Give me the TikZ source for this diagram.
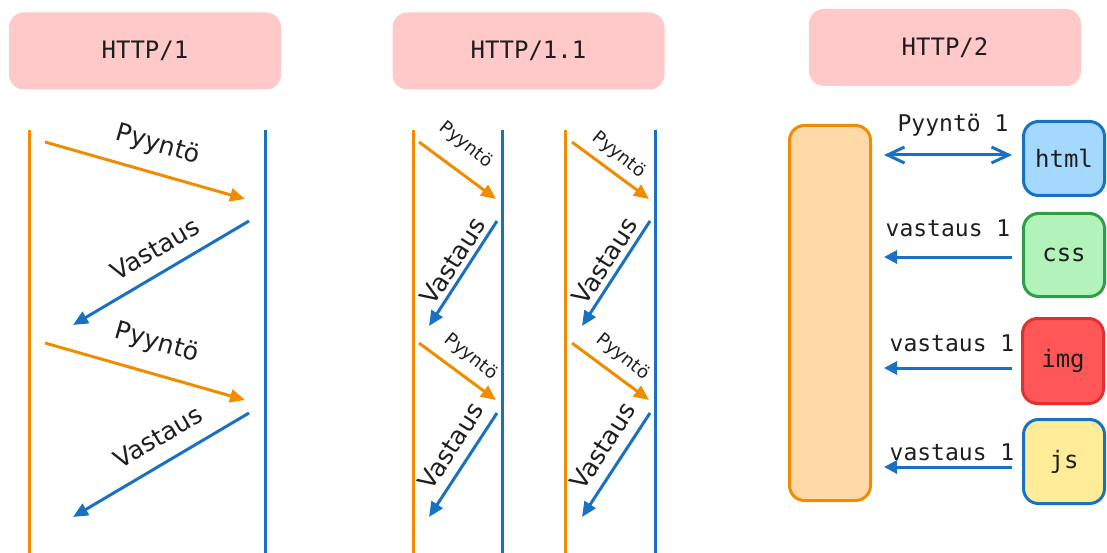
\documentclass[tikz,border=0pt]{standalone}
\usepackage{fontspec}
\setmainfont{DejaVu Sans}
\newfontfamily\monofont{DejaVu Sans Mono}
\usetikzlibrary{arrows.meta}

\definecolor{clientorange}{HTML}{F08C00}
\definecolor{serverblue}{HTML}{1971C2}
\definecolor{titlepink}{HTML}{FFC9C9}
\definecolor{clientfill}{HTML}{FFD8A8}
\definecolor{htmlfill}{HTML}{A5D8FF}
\definecolor{cssfill}{HTML}{B2F2BB}
\definecolor{cssline}{HTML}{2F9E44}
\definecolor{imgfill}{HTML}{FF5757}
\definecolor{imgline}{HTML}{E03131}
\definecolor{jsfill}{HTML}{FFEC99}
\definecolor{ink}{HTML}{1E1E1E}

\begin{document}
\begin{tikzpicture}[x=1pt,y=-1pt,
  titlebox/.style={fill=titlepink, rounded corners=15pt, minimum width=272pt,
    minimum height=77pt, text=ink, inner sep=0pt,
    font=\monofont\fontsize{24}{28}\selectfont},
  clientline/.style={clientorange, line width=3pt},
  serverline/.style={serverblue, line width=3pt},
  reqarrow/.style={clientorange, line width=3pt,
    -{Triangle[length=15pt,width=13pt]}},
  resparrow/.style={serverblue, line width=3pt,
    -{Triangle[length=15pt,width=13pt]}},
  biglabel/.style={text=ink, inner sep=0pt, font=\fontsize{25}{29}\selectfont},
  smalllabel/.style={text=ink, inner sep=0pt, font=\fontsize{18}{21}\selectfont},
  monolabel/.style={text=ink, inner sep=0pt, font=\monofont\fontsize{23}{27}\selectfont},
  filebox/.style={rounded corners=15pt, line width=3pt, minimum width=81pt,
    text=ink, inner sep=0pt, font=\monofont\fontsize{24}{28}\selectfont},
  h2arrow/.style={serverblue, line width=3pt,
    -{Triangle[length=13pt,width=13pt]}},
]
\useasboundingbox (0,0) rectangle (1107,553);

% ---------- titles ----------
\node[titlebox] (t1)  at (145,51)   {HTTP/1};
\node[titlebox] (t11) at (528.5,51) {HTTP/1.1};
\node[titlebox] (t2)  at (945,47.5) {HTTP/2};

% ---------- HTTP/1 ----------
\coordinate (c1top) at (29,130);  \coordinate (c1bot) at (29,553);
\coordinate (s1top) at (265,130); \coordinate (s1bot) at (265,553);
\draw[clientline] (c1top) -- (c1bot);
\draw[serverline] (s1top) -- (s1bot);

\coordinate (r1a) at (45,142);  \coordinate (r1b) at (245,199);
\coordinate (v1a) at (249,221); \coordinate (v1b) at (73,325);
\coordinate (r2a) at (45,343);  \coordinate (r2b) at (245,400);
\coordinate (v2a) at (249,413); \coordinate (v2b) at (73,517);
\draw[reqarrow]  (r1a) -- (r1b);
\draw[resparrow] (v1a) -- (v1b);
\draw[reqarrow]  (r2a) -- (r2b);
\draw[resparrow] (v2a) -- (v2b);
\node[biglabel, rotate=-16]   (lr1) at (158,145) {Pyyntö};
\node[biglabel, rotate=30.6]  (lv1) at (155,249) {Vastaus};
\node[biglabel, rotate=-16]   (lr2) at (157,343) {Pyyntö};
\node[biglabel, rotate=30.6]  (lv2) at (158,437) {Vastaus};

% ---------- HTTP/1.1, first connection ----------
\coordinate (c2top) at (413,130); \coordinate (c2bot) at (413,553);
\coordinate (s2top) at (502,130); \coordinate (s2bot) at (502,553);
\draw[clientline] (c2top) -- (c2bot);
\draw[serverline] (s2top) -- (s2bot);
\coordinate (ar1a) at (419,142); \coordinate (ar1b) at (496,199);
\coordinate (av1a) at (497,221); \coordinate (av1b) at (429,326);
\coordinate (ar2a) at (419,343); \coordinate (ar2b) at (496,400);
\coordinate (av2a) at (497,413); \coordinate (av2b) at (429,517);
\draw[reqarrow]  (ar1a) -- (ar1b);
\draw[resparrow] (av1a) -- (av1b);
\draw[reqarrow]  (ar2a) -- (ar2b);
\draw[resparrow] (av2a) -- (av2b);
\node[smalllabel, rotate=-39] (alr1) at (466,145) {Pyyntö};
\node[biglabel, rotate=57]    (alv1) at (453,261) {Vastaus};
\node[smalllabel, rotate=-39] (alr2) at (471,357) {Pyyntö};
\node[biglabel, rotate=57]    (alv2) at (451,446) {Vastaus};

% ---------- HTTP/1.1, second connection ----------
\coordinate (c3top) at (565,130); \coordinate (c3bot) at (565,553);
\coordinate (s3top) at (655,130); \coordinate (s3bot) at (655,553);
\draw[clientline] (c3top) -- (c3bot);
\draw[serverline] (s3top) -- (s3bot);
\coordinate (br1a) at (572,142); \coordinate (br1b) at (649,199);
\coordinate (bv1a) at (650,221); \coordinate (bv1b) at (582,326);
\coordinate (br2a) at (572,343); \coordinate (br2b) at (649,400);
\coordinate (bv2a) at (650,413); \coordinate (bv2b) at (582,517);
\draw[reqarrow]  (br1a) -- (br1b);
\draw[resparrow] (bv1a) -- (bv1b);
\draw[reqarrow]  (br2a) -- (br2b);
\draw[resparrow] (bv2a) -- (bv2b);
\node[smalllabel, rotate=-39] (blr1) at (619,155) {Pyyntö};
\node[biglabel, rotate=57]    (blv1) at (605,261) {Vastaus};
\node[smalllabel, rotate=-39] (blr2) at (623,357) {Pyyntö};
\node[biglabel, rotate=57]    (blv2) at (603,446) {Vastaus};

% ---------- HTTP/2 ----------
\node[rounded corners=15pt, line width=3pt, draw=clientorange, fill=clientfill,
  minimum width=81pt, minimum height=375pt] (client) at (830,313) {};

\node[filebox, draw=serverblue, fill=htmlfill, minimum height=74pt] (html) at (1064,158.5) {html};
\node[filebox, draw=cssline,    fill=cssfill,  minimum height=83pt] (css)  at (1064,255)   {css};
\node[filebox, draw=imgline,    fill=imgfill,  minimum height=85pt] (img)  at (1063,361)   {img};
\node[filebox, draw=serverblue, fill=jsfill,   minimum height=84pt] (js)   at (1064,461.5) {js};

\coordinate (hh1) at (1012,155); \coordinate (hh2) at (884,155);
\coordinate (hc1) at (1012,257); \coordinate (hc2) at (884,257);
\coordinate (hi1) at (1012,368); \coordinate (hi2) at (884,368);
\coordinate (hj1) at (1012,467); \coordinate (hj2) at (884,467);
\draw[serverblue, line width=3pt,
  {Straight Barb[length=17pt,width=16pt]}-{Straight Barb[length=17pt,width=16pt]}]
  (hh2) -- (hh1);
\draw[h2arrow] (hc1) -- (hc2);
\draw[h2arrow] (hi1) -- (hi2);
\draw[h2arrow] (hj1) -- (hj2);

\node[monolabel] (lh) at (953,125) {Pyyntö 1};
\node[monolabel] (lc) at (948,228) {vastaus 1};
\node[monolabel] (li) at (952,343) {vastaus 1};
\node[monolabel] (lj) at (952,452) {vastaus 1};
\end{tikzpicture}
\end{document}
